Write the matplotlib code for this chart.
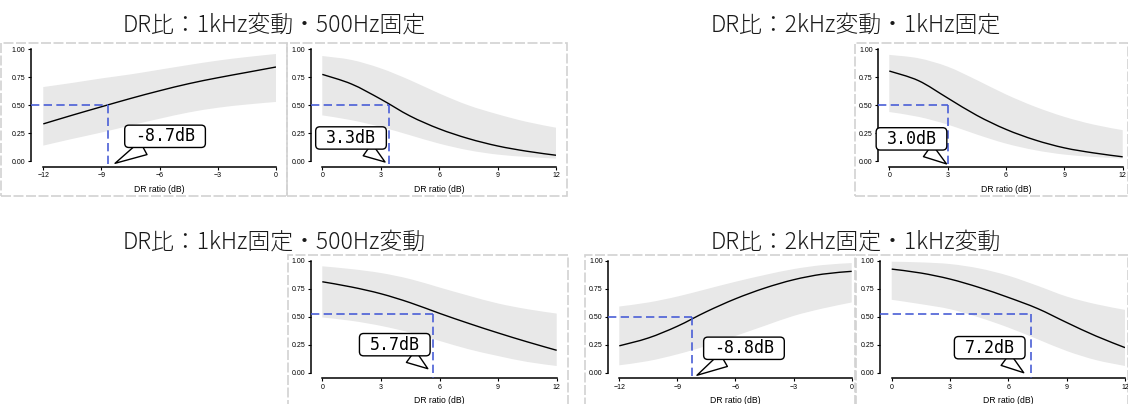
import matplotlib
matplotlib.use('Agg')
import matplotlib.pyplot as plt
from matplotlib.patches import Rectangle, BoxStyle, PathPatch
from matplotlib.path import Path

plt.rcParams['font.family'] = ['Liberation Sans', 'DejaVu Sans']

# x grids (dB)
x_neg = [-12, -10.5, -9, -7.5, -6, -4.5, -3, -1.5, 0]
x_pos = [0, 1.5, 3, 4.5, 6, 7.5, 9, 10.5, 12]

# DR比：1kHz変動・500Hz固定 (negative side)
mean_a = [0.334, 0.412, 0.487, 0.561, 0.63, 0.693, 0.746, 0.794, 0.842]
upper_a = [0.663, 0.70, 0.74, 0.776, 0.818, 0.86, 0.899, 0.931, 0.958]
lower_a = [0.14, 0.2, 0.257, 0.32, 0.38, 0.436, 0.478, 0.507, 0.53]

# DR比：1kHz変動・500Hz固定 (positive side)
mean_b = [0.776, 0.69, 0.555, 0.405, 0.29, 0.203, 0.137, 0.09, 0.054]
upper_b = [0.94, 0.905, 0.83, 0.725, 0.606, 0.50, 0.42, 0.352, 0.30]
lower_b = [0.41, 0.367, 0.307, 0.233, 0.158, 0.099, 0.06, 0.039, 0.024]

# DR比：2kHz変動・1kHz固定
mean_c = [0.806, 0.72, 0.565, 0.41, 0.285, 0.19, 0.12, 0.075, 0.04]
upper_c = [0.95, 0.92, 0.845, 0.725, 0.597, 0.487, 0.397, 0.328, 0.278]
lower_c = [0.44, 0.397, 0.328, 0.239, 0.158, 0.099, 0.06, 0.039, 0.024]

# DR比：1kHz固定・500Hz変動
mean_d = [0.812, 0.765, 0.705, 0.625, 0.53, 0.44, 0.355, 0.275, 0.2]
upper_d = [0.95, 0.925, 0.89, 0.836, 0.761, 0.687, 0.618, 0.567, 0.528]
lower_d = [0.493, 0.463, 0.418, 0.358, 0.284, 0.209, 0.149, 0.096, 0.06]

# DR比：2kHz固定・1kHz変動 (negative side)
mean_e = [0.24, 0.31, 0.415, 0.545, 0.66, 0.755, 0.83, 0.88, 0.905]
upper_e = [0.591, 0.627, 0.68, 0.746, 0.812, 0.872, 0.925, 0.961, 0.979]
lower_e = [0.066, 0.104, 0.164, 0.239, 0.328, 0.418, 0.507, 0.573, 0.627]

# DR比：2kHz固定・1kHz変動 (positive side)
mean_f = [0.925, 0.89, 0.836, 0.761, 0.672, 0.573, 0.448, 0.328, 0.224]
upper_f = [0.991, 0.985, 0.97, 0.931, 0.866, 0.776, 0.68, 0.612, 0.561]
lower_f = [0.651, 0.612, 0.567, 0.493, 0.403, 0.299, 0.194, 0.113, 0.06]

# thresholds: x, y, label, callout tip
thr_x = [-8.66, 3.43, 3.04, 5.66, -8.25, 7.15]
thr_y = [0.501, 0.50, 0.50, 0.525, 0.50, 0.528]
thr_labels = ['-8.7dB', '3.3dB', '3.0dB', '5.7dB', '-8.8dB', '7.2dB']
tip_x = [-8.30, 3.22, 2.94, 5.40, -7.99, 6.79]
tip_y = [-0.018, -0.006, -0.023, 0.036, -0.023, 0.0]

titles = ['DR比：1kHz変動・500Hz固定', 'DR比：2kHz変動・1kHz固定',
          'DR比：1kHz固定・500Hz変動', 'DR比：2kHz固定・1kHz変動']

W, H = 1128, 404
fig = plt.figure(figsize=(W / 100, H / 100), dpi=100)

# layout in pixels: spine x, data start x, data end x, y of 1.0, y of 0.0, x-axis y
panels = [
    dict(geo=(31, 43.3, 276, 49.3, 161.3, 166.7), x=x_neg, m=mean_a, u=upper_a, l=lower_a, off=(50, 27)),
    dict(geo=(310.7, 322.3, 556, 49.3, 161.3, 166.7), x=x_pos, m=mean_b, u=upper_b, l=lower_b, off=(-34, 24)),
    dict(geo=(878.3, 889.3, 1122.7, 49.3, 161.3, 166.7), x=x_pos, m=mean_c, u=upper_c, l=lower_c, off=(-35, 25)),
    dict(geo=(310.7, 322.3, 556.7, 260.7, 372.7, 378), x=x_pos, m=mean_d, u=upper_d, l=lower_d, off=(-33, 24)),
    dict(geo=(608.3, 619.3, 851.7, 260.7, 372.7, 378), x=x_neg, m=mean_e, u=upper_e, l=lower_e, off=(47, 27)),
    dict(geo=(880, 891.7, 1125, 260.7, 372.7, 378), x=x_pos, m=mean_f, u=upper_f, l=lower_f, off=(-34, 25)),
]

boxes = [(0.5, 43, 287, 196), (287, 43, 567, 196), (855, 43, 1127.5, 196),
         (288, 255, 568, 410), (585, 255, 855, 410), (856, 255, 1127.5, 410)]

for x0, y0, x1, y1 in boxes:
    fig.add_artist(Rectangle((x0 / W, 1 - y1 / H), (x1 - x0) / W, (y1 - y0) / H,
                             transform=fig.transFigure, fill=False, ec='#d2d2d2',
                             lw=1.2, ls=(0, (6, 1.5)), zorder=0))


def bubble(x0, y0, width, height, mutation_size):
    padx = 0.62 * mutation_size
    pady = 0.13 * mutation_size
    return BoxStyle.Round(pad=0, rounding_size=0.25)(
        x0 - padx, y0 - pady, width + 2 * padx, height + 2 * pady, mutation_size)


def smooth(xs, ys):
    # cubic bezier segments through the read points (drawing only)
    pts = list(zip(xs, ys))
    n = len(pts)
    verts = [pts[0]]
    codes = [Path.MOVETO]
    for i in range(n - 1):
        p0, p1 = pts[max(i - 1, 0)], pts[i]
        p2, p3 = pts[i + 1], pts[min(i + 2, n - 1)]
        c1 = (p1[0] + (p2[0] - p0[0]) / 6, p1[1] + (p2[1] - p0[1]) / 6)
        c2 = (p2[0] - (p3[0] - p1[0]) / 6, p2[1] - (p3[1] - p1[1]) / 6)
        verts += [c1, c2, p2]
        codes += [Path.CURVE4] * 3
    return verts, codes


blue = '#4a5fd6'
for i, p in enumerate(panels):
    sx, dx0, dx1, py1, py0, pax = p['geo']
    xs = p['x']
    xmin, xmax = xs[0], xs[-1]
    ppd = (dx1 - dx0) / (xmax - xmin)
    ppu = py0 - py1
    xl0 = xmin - (dx0 - sx) / ppd
    yl0 = -(pax - py0) / ppu
    ax = fig.add_axes([sx / W, 1 - pax / H, (dx1 - sx) / W, (pax - py1) / H])
    ax.set_facecolor('none')
    ax.set_xlim(xl0, xmax)
    ax.set_ylim(yl0, 1.0)

    vu, cu = smooth(xs, p['u'])
    vl, cl = smooth(xs[::-1], p['l'][::-1])
    band = Path(vu + vl + [vu[0]], cu + [Path.LINETO] + cl[1:] + [Path.CLOSEPOLY])
    ax.add_patch(PathPatch(band, fc='#e8e8e8', lw=0, zorder=1))
    vm, cm = smooth(xs, p['m'])
    ax.add_patch(PathPatch(Path(vm, cm), fc='none', ec='black', lw=1.0, zorder=2))

    ax.plot([xl0, thr_x[i]], [thr_y[i], thr_y[i]], color=blue, lw=1.2,
            ls=(0, (5, 2.6)), clip_on=False, zorder=3)
    ax.plot([thr_x[i], thr_x[i]], [thr_y[i], yl0], color=blue, lw=1.2,
            ls=(0, (5, 2.6)), clip_on=False, zorder=3)

    ax.annotate(thr_labels[i], xy=(tip_x[i], tip_y[i]), xytext=p['off'],
                textcoords='offset pixels', ha='center', va='center',
                fontsize=12, family='DejaVu Sans Mono',
                bbox=dict(boxstyle=bubble, fc='white', ec='black', lw=1.0),
                arrowprops=dict(arrowstyle='wedge,tail_width=0.9', fc='white',
                                ec='black', lw=1.0, shrinkA=0, shrinkB=0),
                annotation_clip=False, zorder=5)

    for side in ['top', 'right']:
        ax.spines[side].set_visible(False)
    ax.spines['left'].set_bounds(0, 1)
    ax.spines['bottom'].set_bounds(xmin, xmax)
    ax.spines['left'].set_linewidth(1.1)
    ax.spines['bottom'].set_linewidth(1.1)
    ax.set_yticks([0, 0.25, 0.5, 0.75, 1.0])
    ax.set_yticklabels(['0.00', '0.25', '0.50', '0.75', '1.00'])
    ax.set_xticks(range(int(xmin), int(xmax) + 1, 3))
    ax.tick_params(axis='both', length=2.5, width=0.8, labelsize=5, pad=1.5)

    ax.set_xlabel('DR ratio (dB)', fontsize=6.2)
    xc = ((xmin + xmax) / 2 - xl0) / (xmax - xl0)
    ax.xaxis.set_label_coords(xc, -18.0 / (pax - py1))

title_pos = [(274, 31.5), (856, 31.5), (274, 249), (856, 249)]
for (tx, ty), t in zip(title_pos, titles):
    fig.text(tx / W, 1 - ty / H, t, ha='center', va='baseline', fontsize=16.5,
             family=['Noto Sans CJK JP', 'DejaVu Sans'], weight='light',
             color='#1a1a1a')

fig.savefig('out.png', dpi=100)
